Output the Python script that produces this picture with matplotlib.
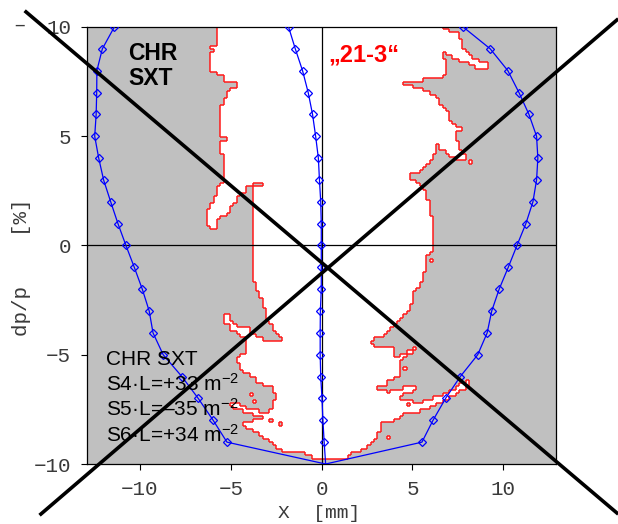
import numpy as np
import matplotlib
matplotlib.use("Agg")
import matplotlib.pyplot as plt
from matplotlib.path import Path
from matplotlib.colors import ListedColormap
from matplotlib.collections import LineCollection

plt.rcParams['font.family'] = ['Liberation Mono', 'DejaVu Sans']
plt.rcParams['mathtext.fontset'] = 'custom'
plt.rcParams['mathtext.rm'] = 'Liberation Sans'
plt.rcParams['mathtext.it'] = 'Liberation Sans:italic'
plt.rcParams['mathtext.bf'] = 'Liberation Sans:bold'

# dp/p of the tracked particles [%]
dp = [10, 9, 8, 7, 6, 5, 4, 3, 2, 1, 0, -1, -2, -3, -4, -5, -6, -7, -8, -9, -10]
# blue curves [mm]
x_left = [-11.41, -12.07, -12.37, -12.38, -12.41, -12.49, -12.27, -12.00, -11.61, -11.21,
          -10.77, -10.31, -9.87, -9.49, -9.28, -8.72, -7.69, -6.79, -5.97, -5.21, 0.22]
x_mid = [-1.82, -1.45, -1.05, -0.74, -0.50, -0.33, -0.18, -0.12, -0.05, -0.02,
         -0.02, -0.02, -0.02, -0.07, -0.08, -0.08, -0.05, 0.02, 0.07, 0.14, 0.22]
x_right = [7.79, 9.28, 10.25, 10.86, 11.41, 11.83, 11.90, 11.83, 11.63, 11.24,
           10.75, 10.27, 9.77, 9.36, 9.11, 8.59, 7.63, 6.82, 6.13, 5.52, 0.22]

# outline of the stable (white) region [mm], [%]
da_x = [-5.71, 6.68, 6.68, 7.17, 7.56, 7.56, 7.78, 7.78, 8.00, 8.27, 8.55, 8.82, 9.10, 9.10,
        8.82, 8.55, 8.16, 7.78, 7.34, 7.17, 6.73, 6.73, 6.90, 6.90, 6.62, 6.13, 5.58, 5.24,
        4.47, 4.47, 5.13, 5.85, 6.29, 6.62, 6.95, 7.12, 7.34, 7.67, 7.67, 7.34, 7.34, 7.50,
        7.61, 7.94, 7.94, 7.61, 6.95, 6.57, 6.35, 6.29, 6.13, 5.85, 5.30, 4.86, 4.86, 5.19,
        5.47, 5.80, 5.85, 5.96, 6.07, 6.18, 6.07, 6.13, 5.74, 5.74, 5.52, 5.52, 5.35, 5.35,
        5.19, 5.13, 4.97, 4.86, 4.42, 4.14, 3.87, 3.48, 2.93, 2.66, 2.66, 3.21, 3.87, 3.87,
        4.14, 4.47, 4.86, 5.13, 5.13, 4.86, 4.42, 4.31, 4.25, 4.14, 3.87, 3.60, 3.48, 3.10,
        3.10, 3.76, 4.31, 4.75, 5.13, 5.13, 4.75, 4.31, 4.47, 5.41, 6.07, 6.62, 7.17, 7.61,
        8.05, 8.16, 7.72, 7.23, 6.68, 6.07, 5.41, 4.47, 4.31, 3.87, 3.32, 3.32, 3.10, 2.93,
        2.66, 2.27, 1.56, 1.45, 0.02, -0.48, -0.92, -1.91, -2.29, -2.74, -3.01, -3.29, -3.51,
        -3.78, -4.11, -4.39, -3.29, -3.12, -3.62, -3.95, -4.39, -4.94, -5.05, -4.50, -4.06,
        -3.67, -3.29, -2.85, -2.63, -2.57, -2.74, -2.74, -3.12, -3.29, -3.56, -3.67, -3.95,
        -4.06, -4.33, -4.50, -4.50, -4.66, -4.66, -4.22, -4.22, -4.61, -4.77, -5.05, -5.16,
        -5.49, -5.49, -5.16, -5.05, -4.88, -4.66, -4.50, -4.06, -3.95, -3.78, -3.51, -3.29,
        -2.57, -2.13, -2.13, -2.41, -2.46, -2.68, -2.85, -3.01, -3.12, -3.23, -3.29, -3.40,
        -3.56, -3.56, -3.71, -3.71, -3.29, -3.29, -3.67, -3.78, -4.06, -4.11, -4.61, -4.77,
        -4.94, -5.16, -5.43, -5.71, -5.71, -5.98, -6.15, -6.26, -6.31, -6.31, -6.26, -6.15,
        -6.04, -5.98, -5.76, -5.71, -5.49, -5.43, -5.43, -5.49, -5.54, -5.54, -5.16, -5.16,
        -5.54, -5.54, -5.38, -5.27, -5.16, -5.16, -4.99, -4.72, -4.77, -5.32, -5.32, -5.60,
        -5.71, -5.76, -6.09, -6.09, -5.98, -5.98, -6.09, -6.09, -5.82, -5.82, -5.71]
da_y = [10.3, 10.3, 9.91, 9.77, 9.73, 9.45, 9.27, 9.08, 8.85, 8.63, 8.54, 8.44, 8.35, 8.12,
        8.17, 8.17, 8.33, 8.40, 8.51, 8.72, 8.79, 8.63, 8.49, 7.80, 7.71, 7.64, 7.57, 7.48,
        7.48, 7.39, 7.25, 7.03, 6.80, 6.43, 6.20, 5.74, 5.42, 5.38, 5.24, 5.19, 4.92, 4.69,
        4.46, 4.10, 3.91, 3.91, 4.19, 4.37, 4.69, 4.28, 4.00, 3.78, 3.36, 3.27, 3.09, 2.95,
        2.72, 2.49, 2.08, 1.76, 1.17, 0.80, 0.57, -0.34, -0.43, -1.12, -1.21, -1.58, -1.67, -1.90,
        -1.95, -2.17, -2.59, -2.95, -3.27, -3.50, -3.78, -4.10, -4.28, -4.46, -4.55, -4.60, -4.60, -5.10,
        -5.10, -4.92, -4.78, -4.69, -4.87, -4.92, -5.24, -5.38, -5.93, -6.02, -6.15, -6.25, -6.48, -6.48,
        -6.61, -6.70, -6.56, -6.43, -6.38, -6.61, -6.75, -6.93, -7.07, -7.16, -7.02, -6.84, -6.61, -6.38,
        -6.15, -6.29, -6.61, -6.89, -7.11, -7.39, -7.57, -7.67, -7.85, -8.08, -8.12, -8.44, -8.58, -8.90,
        -9.04, -9.36, -9.50, -9.68, -9.73, -9.68, -9.50, -9.45, -9.36, -8.99, -8.90, -8.76, -8.58,
        -8.44, -8.31, -8.08, -7.99, -7.90, -7.80, -7.67, -7.53, -7.39, -7.16, -7.25, -7.44,
        -7.53, -7.62, -7.62, -7.25, -6.84, -6.61, -6.48, -6.48, -6.29, -6.25, -6.06, -6.02,
        -5.84, -5.79, -5.61, -5.38, -5.33, -5.15, -4.92, -4.19, -4.10, -3.96, -3.78, -3.55,
        -3.50, -3.18, -3.18, -3.32, -3.50, -3.64, -3.73, -3.78, -3.96, -4.05, -4.19, -4.28,
        -4.32, -4.42, -4.23, -4.19, -3.96, -3.78, -3.55, -3.32, -2.95, -2.72, -2.49, -2.27,
        -2.04, -1.67, -1.58, 2.68, 2.68, 2.86, 2.86, 2.77, 2.68, 2.45, 2.31, 1.99,
        1.76, 1.53, 1.30, 1.26, 0.71, 0.76, 0.80, 0.94, 1.17, 1.53, 1.62, 1.76,
        1.95, 2.08, 2.40, 2.63, 2.86, 3.00, 3.91, 4.14, 4.46, 4.74, 4.74, 4.92,
        4.92, 6.29, 6.57, 6.75, 6.80, 7.03, 7.12, 7.25, 7.48, 7.48, 7.67, 7.80,
        7.85, 7.99, 7.89, 8.81, 8.81, 9.04, 9.04, 9.22, 9.22, 9.86, 9.86]

# isolated scan cells of the other kind
flip_x = [8.22, 6.02, 4.60, 4.82, 3.72, -2.85, -2.20, -3.95, -3.78]
flip_y = [3.88, -0.62, -5.57, -7.25, -8.82, -8.06, -8.18, -6.75, -7.07]

ticks = [-10, -5, 0, 5, 10]
notes = ["CHR SXT", "S4·L=+33 m$^{-2}$", "S5·L=–35 m$^{-2}$", "S6·L=+34 m$^{-2}$"]

fig = plt.figure(figsize=(6.18, 5.24), dpi=100)
ax = fig.add_axes([0.1403, 0.1145, 0.7594, 0.834])
ax.set_xlim(-12.93, 12.9)
ax.set_ylim(-10, 10)

# scan grid
dx, dy = 0.18, 0.15
xe = np.arange(-13.14, 13.2, dx)
ye = np.arange(-10.35, 10.45, dy)
xc = 0.5 * (xe[:-1] + xe[1:])
yc = 0.5 * (ye[:-1] + ye[1:])
XX, YY = np.meshgrid(xc, yc)
outline = Path(np.column_stack([da_x, da_y]))
inside = outline.contains_points(np.column_stack([XX.ravel(), YY.ravel()])).reshape(XX.shape)
for fx, fy in zip(flip_x, flip_y):
    i = np.searchsorted(ye, fy) - 1
    j = np.searchsorted(xe, fx) - 1
    inside[i, j] = not inside[i, j]

ax.pcolormesh(xe, ye, inside.astype(int), cmap=ListedColormap(['#c0c0c0', 'white']),
              vmin=0, vmax=1, shading='flat', antialiased=False, zorder=1)

segs = []
vi, vj = np.nonzero(inside[:, 1:] != inside[:, :-1])
for i, j in zip(vi, vj):
    segs.append([(xe[j + 1], ye[i]), (xe[j + 1], ye[i + 1])])
hi, hj = np.nonzero(inside[1:, :] != inside[:-1, :])
for i, j in zip(hi, hj):
    segs.append([(xe[j], ye[i + 1]), (xe[j + 1], ye[i + 1])])
ax.add_collection(LineCollection(segs, colors='#ff1a1a', linewidths=1.1, zorder=2))

ax.axhline(0, color='black', lw=0.9, zorder=3)
ax.axvline(0, color='black', lw=0.9, zorder=3)

for xs in (x_left, x_mid, x_right):
    ax.plot(xs, dp, color='#0000ff', lw=0.9, marker='D', ms=4, mfc='none',
            mec='#0000ff', mew=0.9, markevery=slice(0, 20), zorder=4)

ax.text(-10.65, 9.31, "CHR\nSXT", family='Liberation Sans', fontsize=16.5,
        fontweight='bold', ha='left', va='top', linespacing=1.1, zorder=5)
ax.text(0.36, 9.25, "„21-3“", family='Liberation Sans', fontsize=17,
        fontweight='bold', color='#ff0000', ha='left', va='top', zorder=5)
for k, s in enumerate(notes):
    ax.text(-11.87, -5.47 - 1.17 * k, s, family='Liberation Sans', fontsize=15,
            ha='left', va='baseline', zorder=5)

# the two crossing lines
ax.plot([-16.27, 16.25], [10.69, -12.24], color='black', lw=2.6, clip_on=False, zorder=10)
ax.plot([-15.45, 16.25], [-12.29, 10.32], color='black', lw=2.6, clip_on=False, zorder=10)

ax.set_xticks(ticks)
ax.set_yticks(ticks)
ax.tick_params(direction='out', length=4.3, width=0.8, labelsize=15, pad=7,
               labelcolor='#3a3a3a')
for sp in ax.spines.values():
    sp.set_linewidth(0.9)

ax.set_xlabel("X  [mm]", fontsize=14, color='#3a3a3a')
ax.xaxis.label.set_va('center')
ax.xaxis.set_label_coords(0.495, -0.114)
ax.set_ylabel("dp/p    [%]", fontsize=15, color='#3a3a3a')
ax.yaxis.label.set_va('center')
ax.yaxis.set_label_coords(-0.138, 0.451)

fig.text(13 / 618, 1 - 25 / 524, "–", fontsize=15, color='#3a3a3a', ha='left', va='center')

fig.savefig('out.png', dpi=100)
